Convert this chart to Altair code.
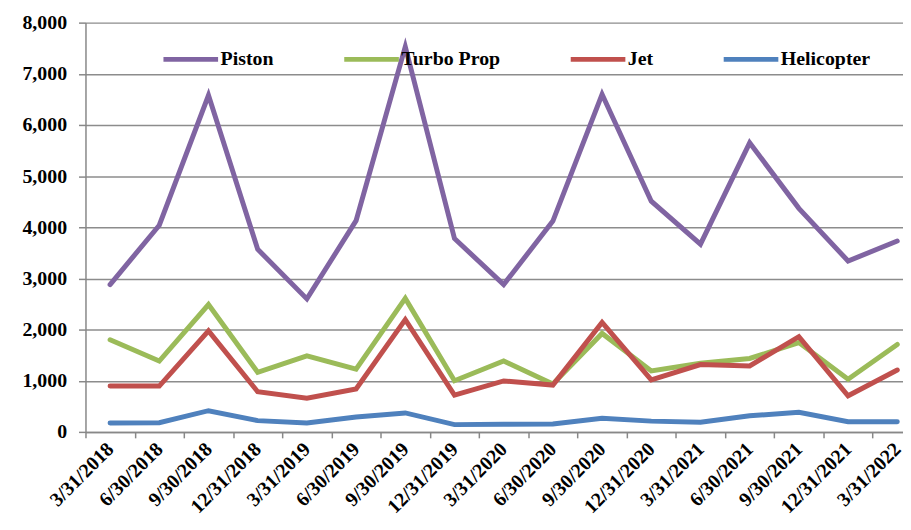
import altair as alt
import pandas as pd

quarters = ["3/31/2018", "6/30/2018", "9/30/2018", "12/31/2018", "3/31/2019", "6/30/2019",
            "9/30/2019", "12/31/2019", "3/31/2020", "6/30/2020", "9/30/2020", "12/31/2020",
            "3/31/2021", "6/30/2021", "9/30/2021", "12/31/2021", "3/31/2022"]
piston = [2880, 4040, 6580, 3570, 2600, 4130, 7530, 3780, 2880, 4120, 6600, 4510, 3670, 5650, 4370, 3340, 3730]
turbo_prop = [1800, 1385, 2490, 1165, 1485, 1225, 2610, 1000, 1385, 935, 1925, 1190, 1340, 1435, 1745, 1030, 1710]
jet = [895, 895, 1975, 785, 660, 840, 2195, 720, 995, 915, 2140, 1015, 1315, 1290, 1860, 705, 1210]
helicopter = [175, 180, 414, 220, 175, 290, 370, 142, 150, 155, 266, 210, 188, 315, 382, 200, 200]

series_names = ["Piston", "Turbo Prop", "Jet", "Helicopter"]
series_colors = ["#8064A2", "#9BBB59", "#C0504D", "#4F81BD"]
series_values = [piston, turbo_prop, jet, helicopter]

rows = []
for name, vals in zip(series_names, series_values):
    for i, (q, v) in enumerate(zip(quarters, vals)):
        rows.append({"Quarter": q, "Series": name, "Value": v, "order": i})
df = pd.DataFrame(rows)

FONT = "Liberation Serif"

chart = alt.Chart(df).mark_line(strokeWidth=5, strokeCap="round").encode(
    x=alt.X("Quarter:N", sort=quarters,
            scale=alt.Scale(domain=quarters, range=[0, 842], paddingInner=0, paddingOuter=0),
            axis=alt.Axis(title=None, labelAngle=-45, labelAlign="right", labelBaseline="middle",
                          tickBand="extent", grid=False, tickSize=6, tickColor="#888888",
                          tickWidth=1.5, domainColor="#888888", domainWidth=1.5,
                          labelFont=FONT, labelFontWeight="bold", labelFontSize=20,
                          labelColor="black", labelPadding=8, labelOverlap=False)),
    y=alt.Y("Value:Q", scale=alt.Scale(domain=[0, 8000], nice=False),
            axis=alt.Axis(title=None, values=list(range(0, 8001, 1000)), format=",.0f",
                          grid=True, gridColor="#8c8c8c", gridWidth=1.5,
                          tickSize=7, tickColor="#888888", tickWidth=1.5,
                          domainColor="#888888", domainWidth=1.5,
                          labelFont=FONT, labelFontWeight="bold", labelFontSize=20,
                          labelColor="black", labelPadding=12)),
    color=alt.Color("Series:N", sort=series_names,
                    scale=alt.Scale(domain=series_names, range=series_colors),
                    legend=alt.Legend(title=None, orient="none", legendX=76, legendY=7,
                                      direction="horizontal", columns=4, columnPadding=60,
                                      symbolType="stroke", symbolSize=3025, symbolStrokeWidth=5,
                                      labelFont=FONT, labelFontWeight="bold", labelFontSize=20,
                                      labelColor="black", labelOffset=0)),
    order="order:Q",
).properties(
    width=823, height=412,
    autosize=alt.AutoSizeParams(type="none"),
    padding={"left": 78, "top": 13, "right": 0, "bottom": 90},
).configure_view(stroke=None)

chart.save("out.html", embed_options={"renderer": "svg", "actions": False})
